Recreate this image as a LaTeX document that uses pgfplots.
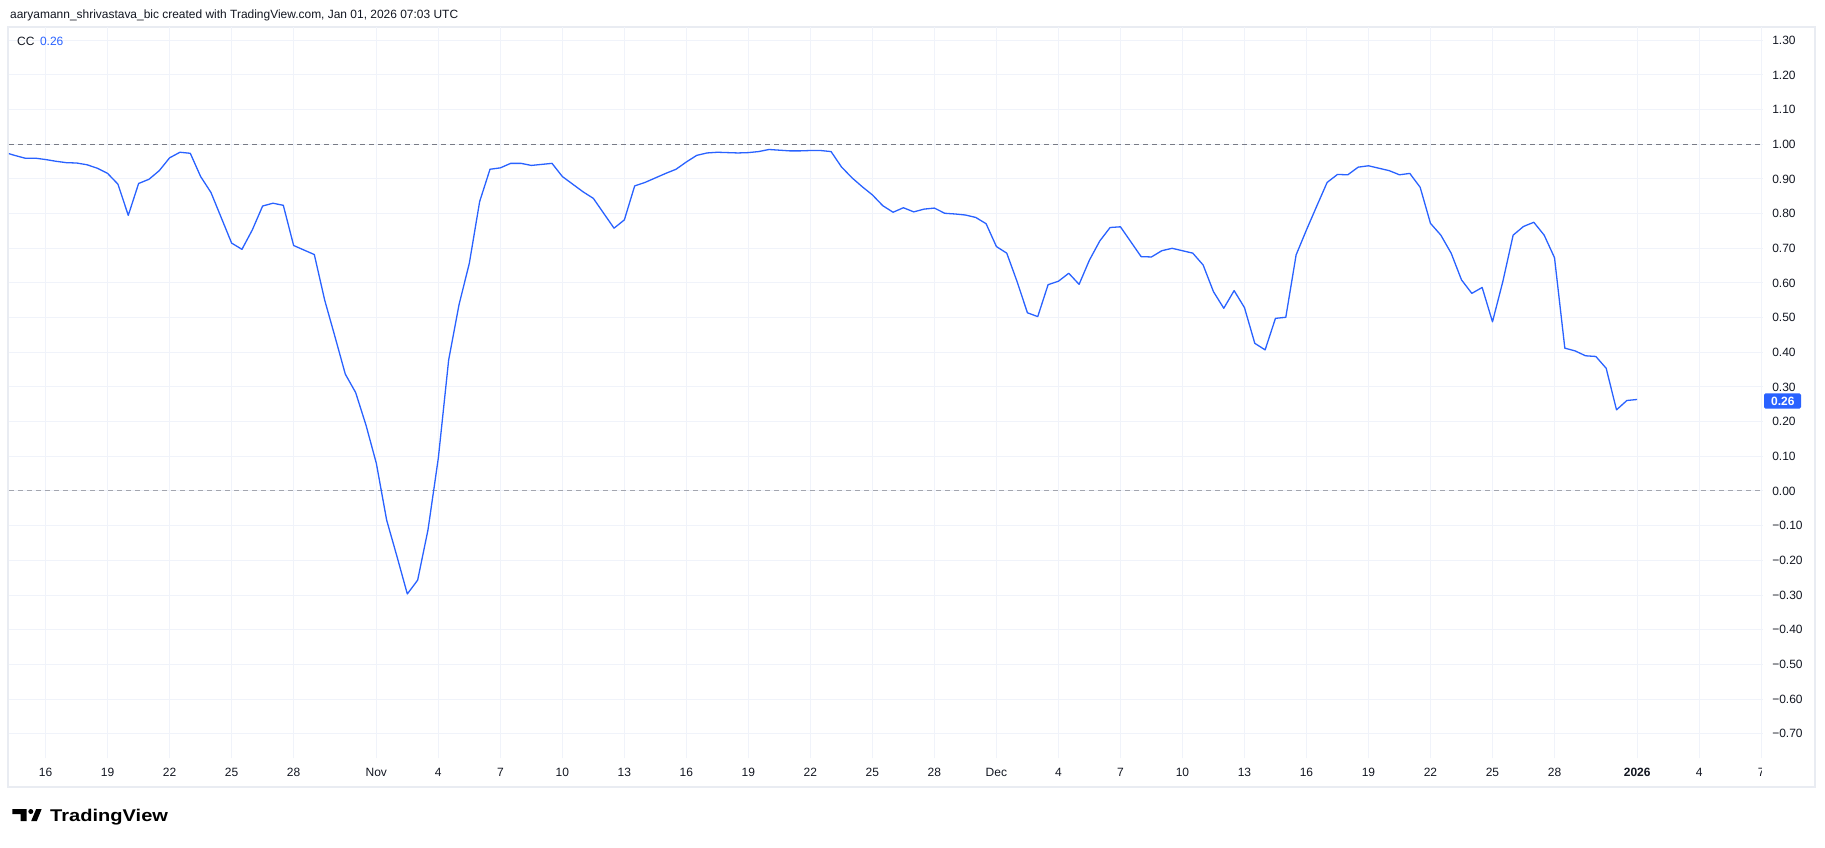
\documentclass[border=0pt]{standalone}
\usepackage{fontspec}
\setmainfont{Liberation Sans}
\usepackage{pgfplots}
\pgfplotsset{compat=1.18}
\usepackage{pgfplotstable}
\definecolor{tvblue}{HTML}{2962FF}
\definecolor{gridc}{HTML}{F0F3FA}
\definecolor{txt}{HTML}{131722}
\definecolor{dashone}{HTML}{787B86}
\definecolor{dashzero}{HTML}{A3A6AF}
\definecolor{framec}{HTML}{E9ECF2}

\pgfplotstableread{
x y
-2 0.977
-1.5 0.968
-1 0.960
-0.5 0.960
0 0.956
0.5 0.951
1 0.947
1.5 0.946
2 0.941
2.5 0.931
3 0.916
3.5 0.885
4 0.795
4.5 0.887
5 0.899
5.5 0.924
6 0.961
6.5 0.977
7 0.974
7.5 0.907
8 0.861
8.5 0.788
9 0.715
9.5 0.697
10 0.753
10.5 0.822
11 0.830
11.5 0.824
12 0.708
12.5 0.695
13 0.682
13.5 0.551
14 0.445
14.5 0.337
15 0.284
15.5 0.190
16 0.080
16.5 -0.084
17 -0.189
17.5 -0.297
18 -0.257
18.5 -0.112
19 0.095
19.5 0.378
20 0.537
20.5 0.657
21 0.835
21.5 0.928
22 0.932
22.5 0.945
23 0.945
23.5 0.939
24 0.942
24.5 0.945
25 0.907
25.5 0.885
26 0.863
26.5 0.844
27 0.801
27.5 0.758
28 0.782
28.5 0.880
29 0.890
29.5 0.903
30 0.916
30.5 0.928
31 0.949
31.5 0.968
32 0.975
32.5 0.977
33 0.976
33.5 0.975
34 0.976
34.5 0.979
35 0.985
35.5 0.983
36 0.981
36.5 0.981
37 0.982
37.5 0.982
38 0.979
38.5 0.935
39 0.904
39.5 0.878
40 0.854
40.5 0.823
41 0.804
41.5 0.817
42 0.805
42.5 0.813
43 0.816
43.5 0.801
44 0.799
44.5 0.796
45 0.789
45.5 0.771
46 0.705
46.5 0.686
47 0.604
47.5 0.514
48 0.503
48.5 0.595
49 0.605
49.5 0.628
50 0.596
50.5 0.666
51 0.721
51.5 0.760
52 0.762
52.5 0.719
53 0.676
53.5 0.675
54 0.693
54.5 0.700
55 0.693
55.5 0.686
56 0.652
56.5 0.575
57 0.527
57.5 0.578
58 0.529
58.5 0.426
59 0.407
59.5 0.498
60 0.501
60.5 0.681
61 0.753
61.5 0.822
62 0.890
62.5 0.913
63 0.912
63.5 0.934
64 0.938
64.5 0.931
65 0.924
65.5 0.912
66 0.916
66.5 0.876
67 0.772
67.5 0.738
68 0.686
68.5 0.609
69 0.570
69.5 0.587
70 0.488
70.5 0.604
71 0.738
71.5 0.763
72 0.775
72.5 0.738
73 0.673
73.5 0.412
74 0.404
74.5 0.390
75 0.388
75.5 0.354
76 0.234
76.5 0.261
77 0.264
}\cc

\begin{document}
\begin{tikzpicture}[x=1pt,y=1pt]
\fill[white] (0,0) rectangle (1825,847);
\draw[framec, line width=2pt] (8,60) rectangle (1815,820.3);
\begin{axis}[at={(9pt,89pt)}, anchor=south west, scale only axis,
  width=1754pt, height=731pt,
  xmin=-1.771, xmax=83.09, ymin=-0.7701, ymax=1.3383,
  axis line style={draw=none}, major tick length=0pt,
  xtick={0,3,6,9,12,16,19,22,25,28,31,34,37,40,43,46,49,52,55,58,61,64,67,70,73,77,80,83},
  xticklabels={16,19,22,25,28,Nov,4,7,10,13,16,19,22,25,28,Dec,4,7,10,13,16,19,22,25,28,\textbf{2026},4,{}},
  ytick={-0.7,-0.6,-0.5,-0.4,-0.3,-0.2,-0.1,0,0.1,0.2,0.3,0.4,0.5,0.6,0.7,0.8,0.9,1.0,1.1,1.2,1.3},
  yticklabels={−0.70,−0.60,−0.50,−0.40,−0.30,−0.20,−0.10,0.00,0.10,0.20,0.30,0.40,0.50,0.60,0.70,0.80,0.90,1.00,1.10,1.20,1.30},
  yticklabel pos=right,
  grid=major, grid style={gridc, line width=1pt},
  xticklabel style={anchor=center, inner sep=0pt, yshift=-14pt, font=\fontsize{12}{14}\selectfont, text=txt, text height=8.6pt, text depth=0pt},
  yticklabel style={anchor=west, inner sep=0pt, xshift=9pt, font=\fontsize{12}{14}\selectfont, text=txt, text height=8.6pt, text depth=0pt},
]
\addplot[dashone, line width=1pt, dash pattern=on 5pt off 4pt, forget plot] coordinates {(-1.771,1) (83.09,1)};
\addplot[dashzero, line width=1pt, dash pattern=on 5pt off 4pt, forget plot] coordinates {(-1.771,0) (83.09,0)};
\addplot[tvblue, line width=1.3pt, line join=round, mark=none] table[x=x,y=y]{\cc};
\end{axis}
% clipped last tick label
\begin{scope}
\clip (0,0) rectangle (1761,847);
\node[inner sep=0pt, text=txt, font=\fontsize{12}{14}\selectfont, text height=8.6pt, text depth=0pt] at (1761.2,75) {7};
\end{scope}
% last value box
\fill[tvblue, rounded corners=1.5pt] (1764,438.3) rectangle (1801,453.7);
\node[inner sep=0pt, text=white, font=\fontsize{12}{14}\selectfont\bfseries, text height=8.6pt, text depth=0pt] at (1782.8,446) {0.26};
% header
\node[anchor=west, inner sep=0pt, text=txt] at (10,832) {\resizebox{448pt}{!}{\fontsize{13}{15}\selectfont aaryamann\_shrivastava\_bic created with TradingView.com, Jan 01, 2026 07:03 UTC}};
% legend
\node[anchor=west, inner sep=0pt, font=\fontsize{12}{14}\selectfont, text height=8.6pt, text depth=0pt] at (17,805.3) {\textcolor{txt}{CC}\hspace{5.5pt}\textcolor{tvblue}{0.26}};
% logo
\fill[black] (12.3,38) -- (26.7,38) -- (26.7,26) -- (20.7,26) -- (20.7,33) -- (12.3,33) -- cycle;
\fill[black] (30.8,35.5) circle (2.5);
\fill[black] (36.2,38) -- (41.7,38) -- (36.8,26) -- (31.2,26) -- cycle;
\node[anchor=base west, inner sep=0pt] at (50,25.3) {\scalebox{1.18}[1]{\fontsize{17}{20}\selectfont\bfseries TradingView}};
\pgfresetboundingbox
\useasboundingbox (0,0) rectangle (1825,847);
\end{tikzpicture}
\end{document}
